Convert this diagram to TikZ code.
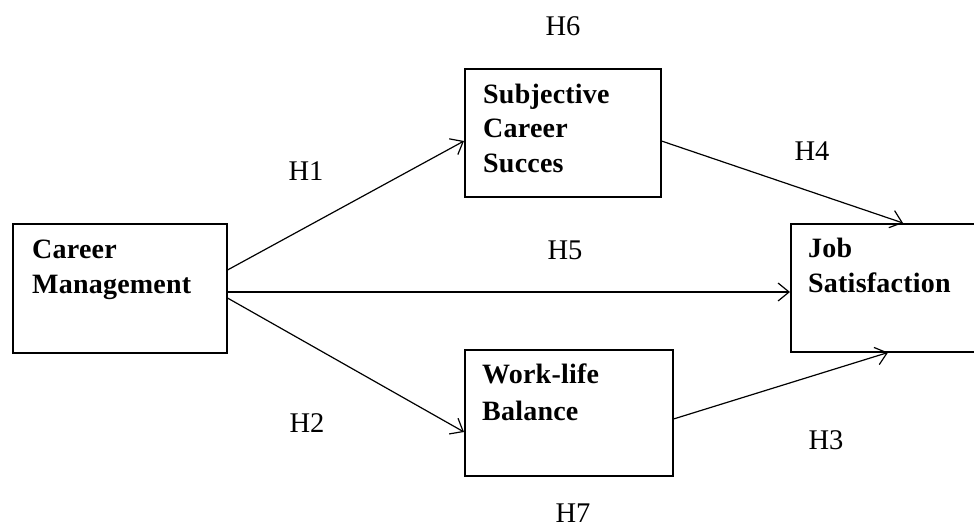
\documentclass[tikz,border=0pt]{standalone}
\usepackage{fontspec}
\setmainfont{Liberation Serif}
\newfontfamily\boxfont[LetterSpace=0.8]{Liberation Serif}
\usetikzlibrary{arrows.meta,calc}
\begin{document}
\begin{tikzpicture}[x=1pt,y=-1pt,
  box/.style={draw,line width=1.5pt,inner sep=0pt,anchor=north west},
  conn/.style={line width=1.2pt,-{Straight Barb[length=11pt,width=18pt,line width=1.2pt]}},
  lbl/.style={font=\fontsize{28.5}{34}\selectfont,anchor=base,inner sep=0pt},
  btxt/.style={font=\fontsize{28}{34}\boxfont\bfseries,anchor=base west,inner sep=0pt}]
\useasboundingbox (0,0) rectangle (974,530);
% boxes
\node[box,minimum width=214pt,minimum height=129pt] (cm) at (12,223) {};
\node[box,minimum width=196pt,minimum height=128pt] (scs) at (464,68) {};
\node[box,minimum width=208pt,minimum height=126pt] (wlb) at (464,349) {};
\node[box,minimum width=220pt,minimum height=128pt] (js) at (790,223) {};
% box texts
\node[btxt] (cm1) at (32,258) {Career};
\node[btxt] (cm2) at (32,293) {Management};
\node[btxt] (scs1) at (483,103) {Subjective};
\node[btxt] (scs2) at (483,137) {Career};
\node[btxt] (scs3) at (483,172) {Succes};
\node[btxt] (wlb1) at (482,383) {Work-life};
\node[btxt] (wlb2) at (482,420) {Balance};
\node[btxt] (js1) at (808,257) {Job};
\node[btxt] (js2) at (808,292) {Satisfaction};
% connectors
\draw[conn] ($(cm.north east)+(0,47)$) -- ($(scs.north west)+(0,73)$);
\draw[conn] ($(cm.north east)+(0,69)$) -- ($(js.north west)+(0,69)$);
\draw[conn] ($(cm.north east)+(0,75)$) -- ($(wlb.north west)+(0,83)$);
\draw[conn] ($(scs.north east)+(0,73)$) -- ($(js.north west)+(113,0)$);
\draw[conn] ($(wlb.north east)+(0,70)$) -- ($(js.south west)+(98,0)$);
% labels
\node[lbl] (h6) at (563,35) {H6};
\node[lbl] (h1) at (306,180) {H1};
\node[lbl] (h5) at (565,259) {H5};
\node[lbl] (h2) at (307,432) {H2};
\node[lbl] (h7) at (573,522) {H7};
\node[lbl] (h4) at (812,160) {H4};
\node[lbl] (h3) at (826,449) {H3};
\end{tikzpicture}
\end{document}
